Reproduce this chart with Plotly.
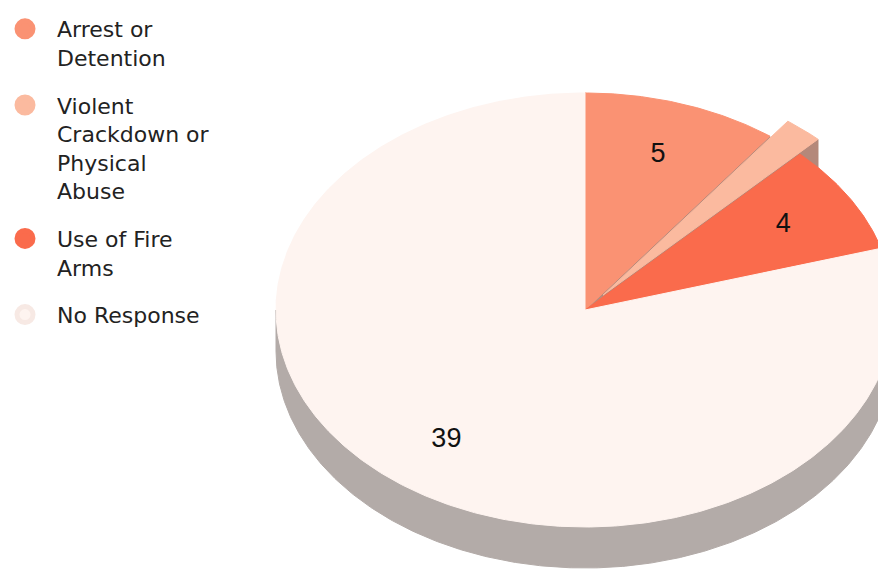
import numpy as np
import plotly.graph_objects as go

# ---- data ----
labels = ["Arrest or<br>Detention",
          "Violent<br>Crackdown or<br>Physical<br>Abuse",
          "Use of Fire<br>Arms",
          "No Response"]
values = [5, 1, 4, 39]
show_value = [True, False, True, True]

# ---- style ----
top_colors = ["#FA9273", "#FBBA9F", "#FA6B4C", "#FEF4F0"]
side_colors = ["#B98B7C", "#B4887A", "#B8705E", "#B3ABA8"]
legend_line = ["#FA9273", "#FBBA9F", "#FA6B4C", "#F7E9E4"]
explode = [0, 0.09, 0, 0]

W, H = 886, 570
PAGE_OFF = 8  # default page margin of the html body
CX, CY, RX, RY, DEPTH = 585, 310, 309, 217, 41
LABEL_R = 0.75
FONT = "Liberation Sans, Arial, Helvetica, sans-serif"
LEG_FONT = "DejaVu Sans, Liberation Sans, Arial, sans-serif"


def point(a, r=1.0, off=(0, 0), dz=0):
    t = np.radians(a)
    return (CX + off[0] + r * RX * np.sin(t), CY + off[1] - r * RY * np.cos(t) + dz)


def arc(a0, a1, off, dz=0):
    n = max(2, int(abs(a1 - a0) * 2) + 1)
    angs = np.linspace(a0, a1, n)
    xs, ys = zip(*[point(a, 1.0, off, dz) for a in angs])
    return list(xs), list(ys)


total = sum(values)
bounds = []
acc = 0
for v in values:
    a0 = acc / total * 360
    acc += v
    a1 = acc / total * 360
    bounds.append((a0, a1))

offsets = []
for (a0, a1), e in zip(bounds, explode):
    mid = np.radians((a0 + a1) / 2)
    offsets.append((e * RX * np.sin(mid), -e * RY * np.cos(mid)))

fig = go.Figure()


def poly(xs, ys, color):
    fig.add_trace(go.Scatter(x=xs + [xs[0]], y=ys + [ys[0]], mode="lines", fill="toself",
                             fillcolor=color, line=dict(color=color, width=1),
                             hoverinfo="skip", showlegend=False))


# 1. front sides (extrusion)
for i, ((a0, a1), off) in enumerate(zip(bounds, offsets)):
    s, e = max(a0, 90), min(a1, 270)
    if s < e:
        tx, ty = arc(s, e, off)
        bx, by = arc(e, s, off, DEPTH)
        poly(tx + bx, ty + by, side_colors[i])

# 2. radial walls next to exploded slices
n = len(values)
for i, ((a0, a1), off) in enumerate(zip(bounds, offsets)):
    c = point(0, 0, off)
    if np.sin(np.radians(a1)) > 0 and (explode[i] > 0 or explode[(i + 1) % n] > 0):
        p = point(a1, 1.0, off)
        poly([c[0], p[0], p[0], c[0]], [c[1], p[1], p[1] + DEPTH, c[1] + DEPTH], side_colors[i])
    if np.sin(np.radians(a0)) < 0 and (explode[i] > 0 or explode[(i - 1) % n] > 0):
        p = point(a0, 1.0, off)
        poly([c[0], p[0], p[0], c[0]], [c[1], p[1], p[1] + DEPTH, c[1] + DEPTH], side_colors[i])

# 3. top faces
for i, ((a0, a1), off) in enumerate(zip(bounds, offsets)):
    c = point(0, 0, off)
    ax, ay = arc(a0, a1, off)
    poly([c[0]] + ax, [c[1]] + ay, top_colors[i])

# 4. value labels
lx, ly, lt = [], [], []
for (a0, a1), off, v, sv in zip(bounds, offsets, values, show_value):
    if sv:
        x, y = point((a0 + a1) / 2, LABEL_R, off)
        lx.append(x); ly.append(y); lt.append(str(v))
fig.add_trace(go.Scatter(x=lx, y=ly, text=lt, mode="text",
                         textfont=dict(size=27, color="#111111", family=FONT),
                         hoverinfo="skip", showlegend=False))

# 5. legend entries
for i, lab in enumerate(labels):
    fig.add_trace(go.Scatter(x=[None], y=[None], mode="markers", name=lab,
                             legendgroup=f"g{i}",
                             marker=dict(symbol="circle", size=16, color=top_colors[i],
                                         line=dict(color=legend_line[i], width=5))))

fig.update_layout(
    width=W, height=H,
    margin=dict(l=0, r=0, t=0, b=0, autoexpand=False),
    paper_bgcolor="white", plot_bgcolor="white",
    xaxis=dict(range=[PAGE_OFF, W + PAGE_OFF], visible=False, fixedrange=True),
    yaxis=dict(range=[H + PAGE_OFF, PAGE_OFF], visible=False, fixedrange=True),
    showlegend=True,
    legend=dict(x=-15 / W, y=1, xanchor="left", yanchor="top", valign="top",
                font=dict(size=22, color="#222222", family=LEG_FONT),
                tracegroupgap=16, itemwidth=54, bgcolor="rgba(0,0,0,0)"),
)

fig.write_html("out.html")
